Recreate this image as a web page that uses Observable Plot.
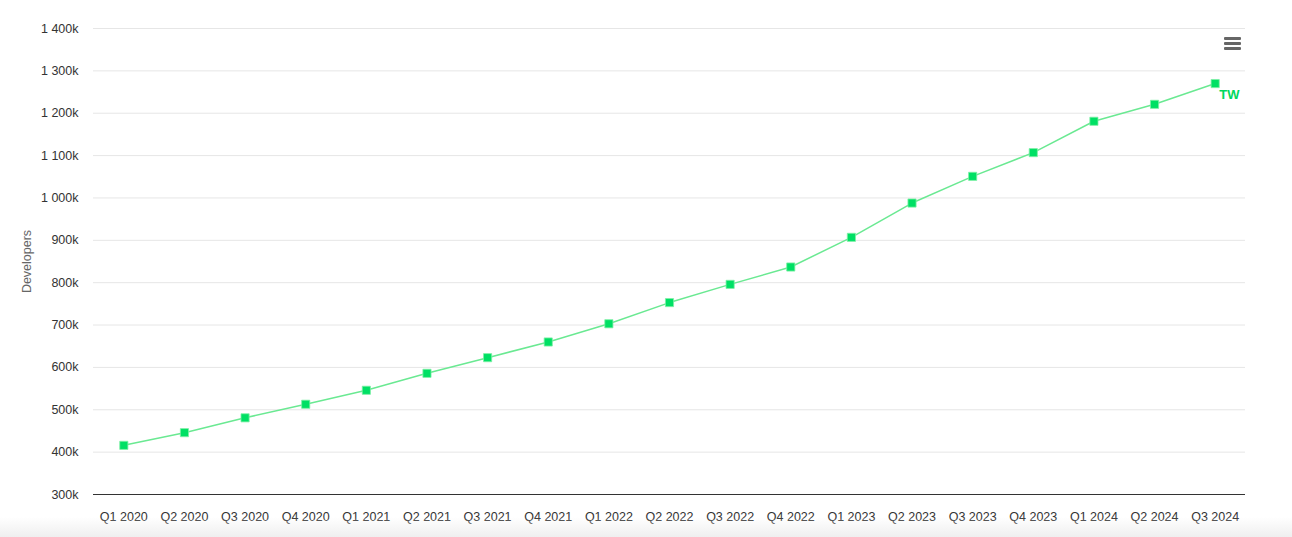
<!DOCTYPE html>
<html>
<head>
<meta charset="utf-8">
<script src="https://cdn.jsdelivr.net/npm/d3@7"></script>
<script src="https://cdn.jsdelivr.net/npm/@observablehq/plot@0.6"></script>
<style>
  html, body { margin: 0; padding: 0; background: #fff; }
  #wrap { position: relative; width: 1292px; height: 537px; overflow: hidden; font-family: "Liberation Sans", Arial, sans-serif; }
  #menu { position: absolute; left: 1224px; top: 37px; width: 17px; }
  #menu span { display: block; height: 3px; background: #666; border-radius: 1px; margin-bottom: 2px; }
  #fade { position: absolute; left: 0; right: 0; bottom: 0; height: 20px; background: linear-gradient(to bottom, rgba(240,240,240,0), #efefef); pointer-events: none; }
</style>
</head>
<body>
<div id="wrap">
  <div id="chart"></div>
  <div id="menu"><span></span><span></span><span></span></div>
  <div id="fade"></div>
</div>
<script>
const quarters = ["Q1 2020","Q2 2020","Q3 2020","Q4 2020","Q1 2021","Q2 2021","Q3 2021","Q4 2021","Q1 2022","Q2 2022","Q3 2022","Q4 2022","Q1 2023","Q2 2023","Q3 2023","Q4 2023","Q1 2024","Q2 2024","Q3 2024"];
const developersK = [416,446,481,513,546,586,623,660,703,753,796,837,907,988,1051,1107,1181,1221,1270];
const yTicksK = [300,400,500,600,700,800,900,1000,1100,1200,1300,1400];
const seriesName = "TW";
const yTitle = "Developers";

const data = quarters.map((q, i) => ({quarter: q, value: developersK[i]}));
const last = data[data.length - 1];

const fmt = k => k >= 1000 ? Math.floor(k / 1000) + " " + String(k % 1000).padStart(3, "0") + "k" : k + "k";

const chart = Plot.plot({
  width: 1292,
  height: 537,
  marginLeft: 93,
  marginRight: 47,
  marginTop: 28,
  marginBottom: 43,
  style: {fontFamily: "'Liberation Sans', Arial, sans-serif", fontSize: "12.5px", color: "#333", background: "transparent"},
  x: {type: "point", domain: quarters, padding: 0.5, round: false},
  y: {domain: [300, 1400]},
  marks: [
    Plot.gridY(yTicksK, {stroke: "#e6e6e6", strokeOpacity: 1}),
    Plot.ruleY([300], {stroke: "#333", strokeWidth: 1}),
    Plot.axisY(yTicksK, {tickSize: 0, tickPadding: 15, tickFormat: fmt, fill: "#333", fontSize: 12.5, label: null}),
    Plot.axisX({tickSize: 0, tickPadding: 18, fill: "#333", fontSize: 12.5, label: null}),
    Plot.text([yTitle], {frameAnchor: "left", textAnchor: "middle", dx: -67, rotate: -90, fill: "#666", fontSize: 12.5}),
    Plot.line(data, {x: "quarter", y: "value", stroke: "#6ae992", strokeWidth: 1.5}),
    Plot.dot(data, {x: "quarter", y: "value", symbol: "square", r: 4.6, fill: "#00e064", stroke: "#7ff0a6", strokeWidth: 0.8}),
    Plot.text([last], {x: "quarter", y: "value", text: () => seriesName, dx: 4, dy: 11, textAnchor: "start", fill: "#00d85e", fontWeight: "bold", fontSize: 13})
  ]
});
document.getElementById("chart").appendChild(chart);
</script>
</body>
</html>
